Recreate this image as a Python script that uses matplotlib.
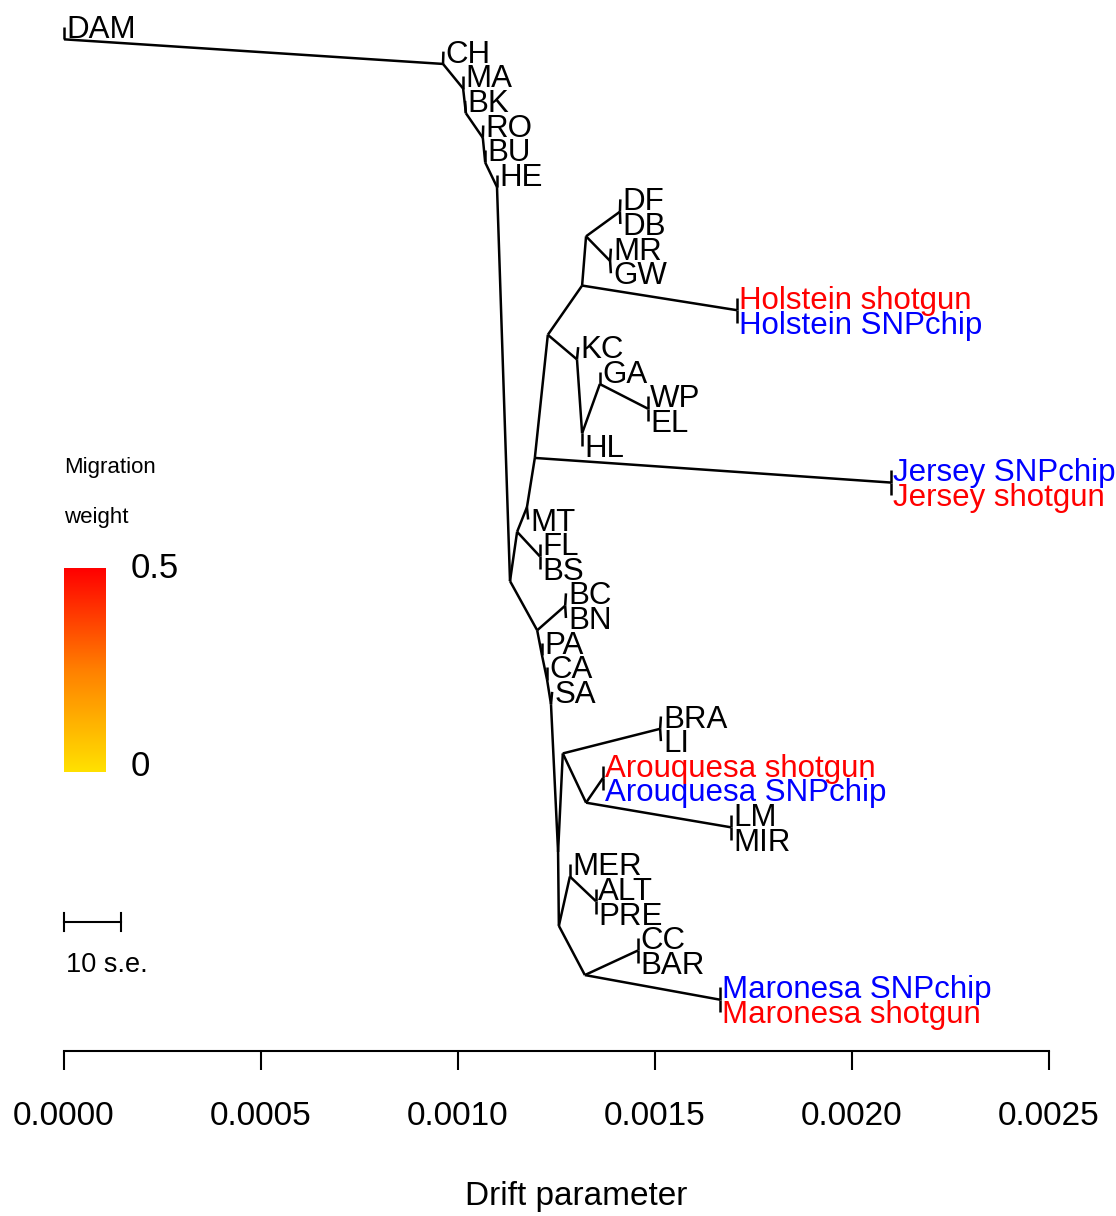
import numpy as np
import matplotlib.pyplot as plt
from matplotlib.colors import LinearSegmentedColormap

plt.rcParams["font.family"] = ["Liberation Sans", "DejaVu Sans"]

W, H = 1116, 1216

# tips, listed top to bottom, with their drift from the root
tip_names = ["DAM", "CH", "MA", "BK", "RO", "BU", "HE", "DF", "DB", "MR", "GW",
             "Holstein shotgun", "Holstein SNPchip", "KC", "GA", "WP", "EL", "HL",
             "Jersey SNPchip", "Jersey shotgun", "MT", "FL", "BS", "BC", "BN",
             "PA", "CA", "SA", "BRA", "LI", "Arouquesa shotgun", "Arouquesa SNPchip",
             "LM", "MIR", "MER", "ALT", "PRE", "CC", "BAR",
             "Maronesa SNPchip", "Maronesa shotgun"]
tip_drift = [0.0, 0.000963, 0.001013, 0.001018, 0.001064, 0.001069, 0.001099,
             0.001412, 0.001412, 0.001388, 0.001388, 0.001708, 0.001708,
             0.001305, 0.001360, 0.001482, 0.001482, 0.001315, 0.002099, 0.002099,
             0.001178, 0.001208, 0.001208, 0.001274, 0.001274, 0.001213, 0.001226,
             0.001239, 0.001515, 0.001515, 0.001368, 0.001368, 0.001693, 0.001693,
             0.001284, 0.001350, 0.001350, 0.001457, 0.001457, 0.001665, 0.001665]
red_tips = ["Holstein shotgun", "Jersey shotgun", "Arouquesa shotgun", "Maronesa shotgun"]
blue_tips = ["Holstein SNPchip", "Jersey SNPchip", "Arouquesa SNPchip", "Maronesa SNPchip"]

# internal nodes: drift and (upper child, lower child)
node_names = ["root", "n1", "n2", "n3", "n4", "n5", "n6", "n7", "a1", "a2", "j0", "jer",
              "h0", "h1", "h2", "dfdb", "mrgw", "hol", "k1", "k2", "k3", "wpel", "fl",
              "b1", "bcbn", "b2", "b3", "b4", "b5", "c1", "brali", "c2", "aro", "lmmir",
              "d1", "d2", "altpre", "d3", "ccbar", "mar"]
node_drift = [0.0, 0.000962, 0.001013, 0.001020, 0.001063, 0.001069, 0.001099, 0.001132,
              0.001150, 0.001175, 0.001195, 0.002099, 0.001228, 0.001315, 0.001325,
              0.001411, 0.001386, 0.001708, 0.001302, 0.001315, 0.001360, 0.001482,
              0.001208, 0.001201, 0.001272, 0.001213, 0.001226, 0.001236, 0.001254,
              0.001266, 0.001513, 0.001325, 0.001368, 0.001693, 0.001256, 0.001284,
              0.001350, 0.001322, 0.001457, 0.001665]
node_children = [("DAM", "n1"), ("CH", "n2"), ("MA", "n3"), ("BK", "n4"), ("RO", "n5"),
                 ("BU", "n6"), ("HE", "n7"), ("a1", "b1"), ("a2", "fl"), ("j0", "MT"),
                 ("h0", "jer"), ("Jersey SNPchip", "Jersey shotgun"), ("h1", "k1"),
                 ("h2", "hol"), ("dfdb", "mrgw"), ("DF", "DB"), ("MR", "GW"),
                 ("Holstein shotgun", "Holstein SNPchip"), ("KC", "k2"), ("k3", "HL"),
                 ("GA", "wpel"), ("WP", "EL"), ("FL", "BS"), ("bcbn", "b2"), ("BC", "BN"),
                 ("PA", "b3"), ("CA", "b4"), ("SA", "b5"), ("c1", "d1"), ("brali", "c2"),
                 ("BRA", "LI"), ("aro", "lmmir"),
                 ("Arouquesa shotgun", "Arouquesa SNPchip"), ("LM", "MIR"),
                 ("d2", "d3"), ("MER", "altpre"), ("ALT", "PRE"), ("ccbar", "mar"),
                 ("CC", "BAR"), ("Maronesa SNPchip", "Maronesa shotgun")]

x_ticks = [0.0, 0.0005, 0.0010, 0.0015, 0.0020, 0.0025]
mig_range = ["0", "0.5"]
se_length = 0.000145  # 10 s.e.

# --- y positions: tips by order, nodes on the split between their children
ypos = {n: i for i, n in enumerate(tip_names)}
drift = dict(zip(tip_names, tip_drift))
drift.update(zip(node_names, node_drift))
children = dict(zip(node_names, node_children))


def span(n):
    if n in children:
        a, b = span(children[n][0]), span(children[n][1])
        return min(a[0], b[0]), max(a[1], b[1])
    return ypos[n], ypos[n]


for n in node_names:
    c1, c2 = children[n]
    ypos[n] = (span(c1)[1] + span(c2)[0]) / 2

fig = plt.figure(figsize=(W / 100, H / 100), dpi=100)
ax = fig.add_axes([0, 0, 1, 1])
xs = 394000.0  # pixels per drift unit
dy = 24.625    # pixels per tip
ax.set_xlim(-64 / xs, (W - 64) / xs)
ax.set_ylim((H - 27) / dy, -27 / dy)

for n in node_names:
    for c in children[n]:
        ax.plot([drift[n], drift[c]], [ypos[n], ypos[c]], color="black", lw=1.8,
                solid_capstyle="butt")

for name in tip_names:
    col = "red" if name in red_tips else ("blue" if name in blue_tips else "black")
    ax.annotate(name, (drift[name], ypos[name]), xytext=(1.5, -8), textcoords="offset points",
                ha="left", va="baseline", fontsize=22.5, color=col)

# x axis in R style
for s in ["top", "right", "left"]:
    ax.spines[s].set_visible(False)
ax.spines["bottom"].set_position(("data", (1051 - 27) / dy))
ax.spines["bottom"].set_bounds(x_ticks[0], x_ticks[-1])
ax.spines["bottom"].set_linewidth(1.5)
ax.set_xticks(x_ticks)
ax.set_xticklabels([f"{t:.4f}" for t in x_ticks], fontsize=24)
ax.tick_params(axis="x", direction="out", length=14, width=1.5, pad=22)
ax.set_yticks([])
fig.text(576 / W, 1 - 1197 / H, "Drift parameter", ha="center", va="center", fontsize=24)

# migration weight legend
fig.text(64 / W, 1 - 467 / H, "Migration", ha="left", va="center", fontsize=16)
fig.text(64 / W, 1 - 517 / H, "weight", ha="left", va="center", fontsize=16)
cmap = LinearSegmentedColormap.from_list("mig", ["#FFE100", "#FF8000", "#FF0000"])
cax = fig.add_axes([64 / W, 1 - 772 / H, 42 / W, 204 / H])
cax.imshow(np.linspace(1, 0, 256)[:, None], aspect="auto", cmap=cmap)
cax.axis("off")
fig.text(131 / W, 1 - 568 / H, mig_range[1], ha="left", va="center", fontsize=25)
fig.text(131 / W, 1 - 766 / H, mig_range[0], ha="left", va="center", fontsize=25)

# scale bar
yb = (922 - 27) / dy
ax.plot([0, se_length], [yb, yb], color="black", lw=1.5)
for xb in [0, se_length]:
    ax.plot([xb, xb], [yb - 0.37, yb + 0.37], color="black", lw=1.5)
fig.text(66 / W, 1 - 965 / H, "10 s.e.", ha="left", va="center", fontsize=19.5)

fig.savefig("out.png", dpi=100)
